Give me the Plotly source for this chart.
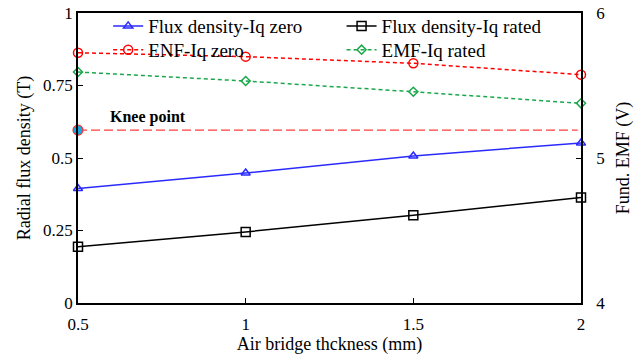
import plotly.graph_objects as go

x = [0.5, 1, 1.5, 2]
flux_zero = [0.395, 0.448, 0.507, 0.552]
flux_rated = [0.194, 0.245, 0.303, 0.364]
emf_zero = [5.726, 5.699, 5.653, 5.575]
emf_rated = [5.593, 5.531, 5.457, 5.377]
knee_x = [0.5, 1.99]
knee_y = [0.596, 0.596]

FONT = "Liberation Serif"

fig = go.Figure()
fig.add_trace(go.Scatter(x=x, y=flux_zero, name="Flux density-Iq zero", mode="lines+markers",
                         line=dict(color="#2a2aff", width=1.5),
                         marker=dict(symbol="triangle-up-open", size=8, color="#2a2aff", line=dict(width=1.5)),
                         legend="legend", cliponaxis=False))
fig.add_trace(go.Scatter(x=x, y=emf_zero, name="ENF-Iq zero", mode="lines+markers", yaxis="y2",
                         line=dict(color="#ff0000", width=1.5, dash="4px,3px"),
                         marker=dict(symbol="circle-open", size=9, color="#ff0000", line=dict(width=1.5)),
                         legend="legend2", cliponaxis=False))
fig.add_trace(go.Scatter(x=x, y=flux_rated, name="Flux density-Iq rated", mode="lines+markers",
                         line=dict(color="#000000", width=1.5),
                         marker=dict(symbol="square-open", size=9, color="#000000", line=dict(width=1.5)),
                         legend="legend3", cliponaxis=False))
fig.add_trace(go.Scatter(x=x, y=emf_rated, name="EMF-Iq rated", mode="lines+markers", yaxis="y2",
                         line=dict(color="#1aa84a", width=1.5, dash="4px,3px"),
                         marker=dict(symbol="diamond-open", size=7, color="#1aa84a", line=dict(width=1.5)),
                         legend="legend4", cliponaxis=False))
fig.add_trace(go.Scatter(x=knee_x, y=knee_y, mode="lines", showlegend=False,
                         line=dict(color="rgb(255,60,60)", width=1.3, dash="9px,4px")))
fig.add_trace(go.Scatter(x=knee_x[:1], y=knee_y[:1], mode="markers", showlegend=False, cliponaxis=False,
                         marker=dict(symbol="circle", size=10, color="#1aa7e0", line=dict(color="#ff3030", width=1.2))))

fig.add_annotation(x=0.59, y=0.596, yshift=13, text="<b>Knee point</b>", showarrow=False,
                   xanchor="left", font=dict(family=FONT, size=16, color="black"))

axis_common = dict(showgrid=False, zeroline=False, ticks="inside", ticklen=5, tickcolor="black",
                   linecolor="black", linewidth=1.5, automargin=False,
                   tickfont=dict(family=FONT, size=17, color="black"))

leg_common = dict(xanchor="left", yanchor="middle", bgcolor="rgba(0,0,0,0)",
                  font=dict(family=FONT, size=19), itemwidth=30)

fig.update_layout(
    width=637, height=360,
    margin=dict(l=78, r=56, t=13, b=57, autoexpand=False),
    plot_bgcolor="white", paper_bgcolor="white",
    font=dict(family=FONT, size=17, color="black"),
    xaxis=dict(range=[0.5, 2], tickvals=[0.5, 1, 1.5, 2], ticktext=["0.5", "1", "1.5", "2"],
               showline=True, mirror=True, ticklabelstandoff=5,
               title=dict(text="Air bridge thckness (mm)", font=dict(family=FONT, size=18), standoff=2),
               **axis_common),
    yaxis=dict(range=[0, 1], tickvals=[0, 0.25, 0.5, 0.75, 1], ticktext=["0", "0.25", "0.5", "0.75", "1"],
               showline=True, mirror=True,
               title=dict(text="Radial flux density (T)", font=dict(family=FONT, size=18), standoff=8),
               **axis_common),
    yaxis2=dict(range=[4, 6], tickvals=[4, 5, 6], overlaying="y", side="right", showline=True,
                ticklabelstandoff=10,
                title=dict(text="Fund. EMF (V)", font=dict(family=FONT, size=18), standoff=12),
                **axis_common),
    legend=dict(x=0.06, y=0.955, **leg_common),
    legend2=dict(x=0.06, y=0.873, **leg_common),
    legend3=dict(x=0.524, y=0.955, **leg_common),
    legend4=dict(x=0.524, y=0.873, **leg_common),
)

fig.write_html("out.html")
